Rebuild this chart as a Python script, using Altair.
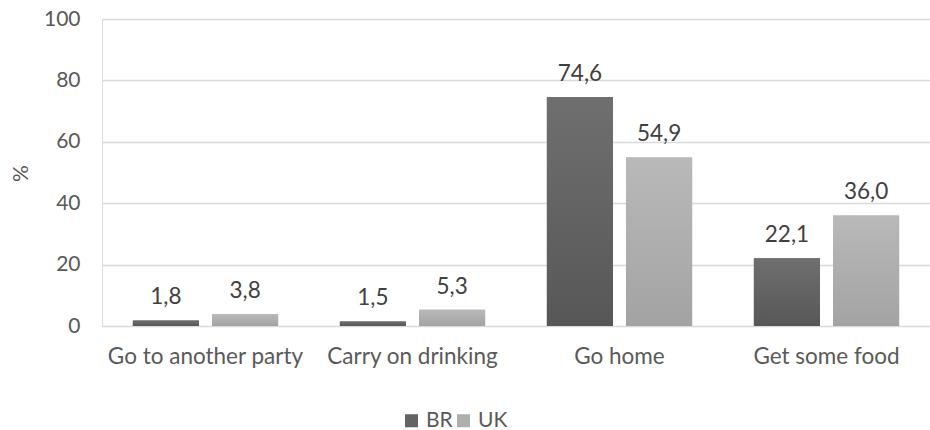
import altair as alt
import pandas as pd

categories = ["Go to another party", "Carry on drinking", "Go home", "Get some food"]
series = ["BR", "UK"]
br_values = [1.8, 1.5, 74.6, 22.1]
uk_values = [3.8, 5.3, 54.9, 36.0]
y_ticks = [0, 20, 40, 60, 80, 100]

rows = []
for c, b, u in zip(categories, br_values, uk_values):
    rows.append({"cat": c, "series": "BR", "value": b})
    rows.append({"cat": c, "series": "UK", "value": u})
df = pd.DataFrame(rows)
df["label"] = df["value"].map(lambda v: f"{v:.1f}".replace(".", ","))

FONT = "Lato"
x_enc = alt.X("cat:N", sort=categories, title=None,
              scale=alt.Scale(paddingInner=0, paddingOuter=0),
              axis=alt.Axis(labelAngle=0, ticks=False, domain=False, labelPadding=19,
                            labelFontSize=22.5, labelColor="#595959", labelFont=FONT,
                            labelLimit=0))
xoff = alt.XOffset("series:N", sort=series,
                   scale=alt.Scale(domain=series, paddingInner=0.165, paddingOuter=0.39))
y_enc = alt.Y("value:Q", title="%",
              scale=alt.Scale(domain=[0, 100], nice=False),
              axis=alt.Axis(values=y_ticks, ticks=False, domain=False, labelPadding=22,
                            labelFontSize=21, labelColor="#595959", labelFont=FONT,
                            gridColor="#d9d9d9", gridWidth=1.5,
                            titleFontSize=21, titleColor="#595959", titleFont=FONT,
                            titleFontWeight="normal", titleX=-81, titleY=154,
                            titleBaseline="middle", titleAngle=-90))

base = alt.Chart(df)

bars = base.mark_bar().encode(
    x=x_enc, xOffset=xoff, y=y_enc,
    color=alt.Color("series:N", sort=series,
                    scale=alt.Scale(domain=series, range=["#636363", "#afafaf"]),
                    legend=alt.Legend(title=None, orient="none", direction="horizontal",
                                      legendX=299, legendY=391, symbolType="square",
                                      symbolSize=170, symbolStrokeWidth=0,
                                      labelFontSize=21, labelColor="#595959", labelFont=FONT,
                                      columnPadding=0, labelOffset=4))
)

def grad(top, bottom):
    return alt.Gradient(gradient="linear",
                        stops=[alt.GradientStop(color=top, offset=0),
                               alt.GradientStop(color=bottom, offset=1)],
                        x1=0, x2=0, y1=0, y2=1)

br_bars = base.transform_filter(alt.datum.series == "BR").mark_bar(
    color=grad("#6f6f6f", "#575757")).encode(
    x=alt.X("cat:N", sort=categories), xOffset=alt.XOffset("series:N", sort=series),
    y=alt.Y("value:Q"))
uk_bars = base.transform_filter(alt.datum.series == "UK").mark_bar(
    color=grad("#b9b9b9", "#a3a3a3")).encode(
    x=alt.X("cat:N", sort=categories), xOffset=alt.XOffset("series:N", sort=series),
    y=alt.Y("value:Q"))

labels = base.mark_text(baseline="bottom", dy=-11, fontSize=22.5, font=FONT,
                        color="#404040").encode(
    x=alt.X("cat:N", sort=categories), xOffset=alt.XOffset("series:N", sort=series),
    y=alt.Y("value:Q"), text="label:N"
)

chart = alt.layer(bars, br_bars, uk_bars, labels).properties(
    width=828, height=307,
    autosize=alt.AutoSizeParams(type="none"),
    padding={"left": 102, "top": 19, "right": 0, "bottom": 104},
).configure_view(stroke=None).configure(background="white")

chart.save("out.html", embed_options={"renderer": "svg", "actions": False})
